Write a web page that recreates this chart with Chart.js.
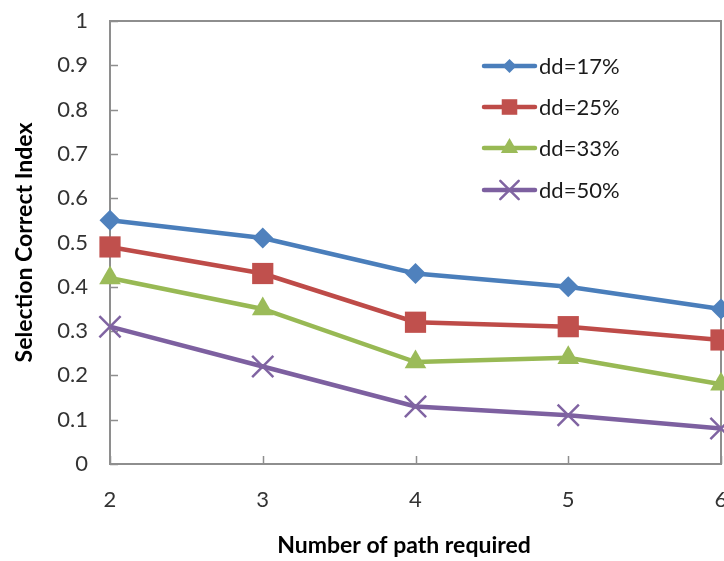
<!DOCTYPE html>
<html>
<head>
<meta charset="utf-8">
<script src="https://cdn.jsdelivr.net/npm/chart.js@4/dist/chart.umd.min.js"></script>
<style>
  html, body { margin: 0; padding: 0; background: #ffffff; }
  #wrap { width: 724px; height: 561px; position: relative; }
</style>
</head>
<body>
<div id="wrap"><canvas id="c" width="724" height="561"></canvas></div>
<script>
// Number of paths required (x categories)
const categories = ['2', '3', '4', '5', '6'];
// Y tick values
const yTicks = [0, 0.1, 0.2, 0.3, 0.4, 0.5, 0.6, 0.7, 0.8, 0.9, 1];

// Series names and values
const seriesNames = ['dd=17%', 'dd=25%', 'dd=33%', 'dd=50%'];
const dd17 = [0.55, 0.51, 0.43, 0.40, 0.35];
const dd25 = [0.49, 0.43, 0.32, 0.31, 0.28];
const dd33 = [0.42, 0.35, 0.23, 0.24, 0.18];
const dd50 = [0.31, 0.22, 0.13, 0.11, 0.08];

const xTitle = 'Number of path required';
const yTitle = 'Selection Correct Index';

const FONT = 'Lato, "Open Sans", "Liberation Sans", sans-serif';
const AXIS_GREY = '#8e8e8e';
const TICK_SIZE = 22;
const TICK_COLOR = '#333333';

const styles = [
  { color: '#4A7EBB', fill: '#4F81BD', point: 'rectRot', radius: 10.5, legendRadius: 7, bw: 0 },
  { color: '#BE4B48', fill: '#C0504D', point: 'rect', radius: 15, legendRadius: 11, bw: 0 },
  { color: '#98B954', fill: '#9BBB59', point: 'triangle', radius: 12.5, legendRadius: 10, bw: 0 },
  { color: '#7D60A0', fill: '#8064A2', point: 'crossRot', radius: 15, legendRadius: 13, bw: 2.5 }
];

const seriesData = [dd17, dd25, dd33, dd50];

const datasets = seriesData.map((values, i) => ({
  label: seriesNames[i],
  data: values,
  borderColor: styles[i].color,
  backgroundColor: styles[i].fill,
  borderWidth: 4.5,
  pointStyle: styles[i].point,
  pointRadius: styles[i].radius,
  pointHoverRadius: styles[i].radius,
  pointBackgroundColor: styles[i].fill,
  pointBorderColor: styles[i].fill,
  pointBorderWidth: styles[i].bw,
  tension: 0,
  clip: false,
  order: 3 - i
}));

// Plot frame, inward tick marks, x tick labels, axis titles and the in-plot legend
const framePlugin = {
  id: 'frame',
  beforeDatasetsDraw(chart) {
    const { ctx, chartArea: a, scales } = chart;
    ctx.save();
    ctx.strokeStyle = AXIS_GREY;
    ctx.lineWidth = 1.5;
    // tick marks pointing into the plot
    ctx.beginPath();
    scales.y.ticks.forEach(t => {
      const y = Math.round(scales.y.getPixelForValue(t.value)) + 0.5;
      ctx.moveTo(a.left, y);
      ctx.lineTo(a.left + 8, y);
    });
    scales.x.ticks.forEach((t, i) => {
      const x = Math.round(scales.x.getPixelForValue(i)) + 0.5;
      ctx.moveTo(x, a.bottom);
      ctx.lineTo(x, a.bottom - 8);
    });
    ctx.stroke();
    // frame
    ctx.lineWidth = 2;
    ctx.strokeRect(a.left, a.top, a.right - a.left, a.bottom - a.top);

    // category labels under the axis, centred on each category
    ctx.fillStyle = TICK_COLOR;
    ctx.font = TICK_SIZE + 'px ' + FONT;
    ctx.textAlign = 'center';
    ctx.textBaseline = 'middle';
    categories.forEach((c, i) => {
      ctx.fillText(c, scales.x.getPixelForValue(i), a.bottom + 36);
    });
    ctx.restore();
  },
  afterDraw(chart) {
    const { ctx, chartArea: a } = chart;
    ctx.save();
    ctx.fillStyle = '#000000';
    ctx.font = 'bold 23px ' + FONT;
    ctx.textAlign = 'center';
    ctx.textBaseline = 'middle';
    ctx.fillText(xTitle, 404, 546);
    ctx.translate(25, (a.top + a.bottom) / 2);
    ctx.rotate(-Math.PI / 2);
    ctx.fillText(yTitle, 0, 0);
    ctx.restore();

    // legend
    ctx.save();
    const rows = [66, 107, 148, 190];
    chart.data.datasets.forEach((ds, i) => {
      const y = rows[i];
      ctx.strokeStyle = ds.borderColor;
      ctx.lineWidth = 4.5;
      ctx.lineCap = 'round';
      ctx.beginPath();
      ctx.moveTo(484, y);
      ctx.lineTo(535, y);
      ctx.stroke();
      ctx.fillStyle = ds.pointBackgroundColor;
      ctx.strokeStyle = ds.pointBorderColor;
      ctx.lineWidth = styles[i].bw || 0.01;
      Chart.helpers.drawPoint(ctx, {
        pointStyle: ds.pointStyle,
        radius: styles[i].legendRadius,
        rotation: 0,
        borderWidth: styles[i].bw
      }, 509.5, y);
      ctx.fillStyle = '#1a1a1a';
      ctx.font = TICK_SIZE + 'px ' + FONT;
      ctx.textAlign = 'left';
      ctx.textBaseline = 'middle';
      ctx.fillText(ds.label, 539, y + 1);
    });
    ctx.restore();
  }
};

new Chart(document.getElementById('c'), {
  type: 'line',
  data: { labels: categories, datasets },
  plugins: [framePlugin],
  options: {
    responsive: false,
    animation: false,
    events: [],
    layout: { autoPadding: false, padding: { top: 21, right: 3, left: 0, bottom: 0 } },
    plugins: {
      legend: { display: false },
      tooltip: { enabled: false },
      title: { display: false }
    },
    scales: {
      x: {
        type: 'category',
        offset: false,
        grid: { display: false, drawTicks: false },
        border: { display: false },
        ticks: { display: false },
        afterFit(scale) {
          scale.height = 97;
        }
      },
      y: {
        min: 0,
        max: 1,
        grid: { display: false, drawTicks: false },
        border: { display: false },
        afterBuildTicks(scale) { scale.ticks = yTicks.map(v => ({ value: v })); },
        ticks: {
          padding: 22,
          color: TICK_COLOR,
          font: { family: FONT, size: TICK_SIZE },
          callback: v => String(Math.round(v * 10) / 10)
        },
        afterFit(scale) {
          scale.width = 110;
          scale.paddingTop = 0;
          scale.paddingBottom = 0;
        }
      }
    }
  }
});
</script>
</body>
</html>
